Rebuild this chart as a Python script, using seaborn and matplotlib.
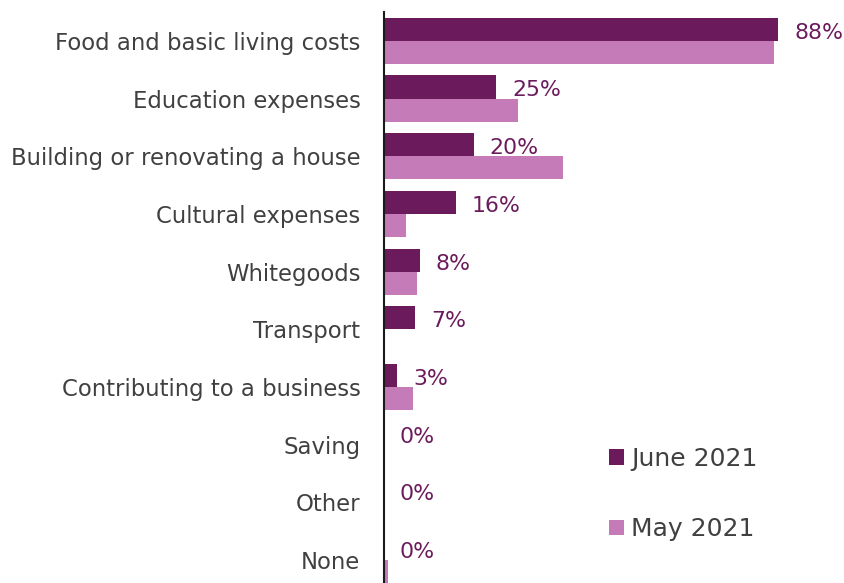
import pandas as pd
import matplotlib.pyplot as plt
import seaborn as sns

categories = ['Food and basic living costs', 'Education expenses', 'Building or renovating a house',
              'Cultural expenses', 'Whitegoods', 'Transport', 'Contributing to a business',
              'Saving', 'Other', 'None']
june_2021 = [88, 25, 20, 16, 8, 7, 3, 0, 0, 0]
may_2021 = [87, 30, 40, 5, 7.4, 0, 6.4, 0, 0, 1]
series = ['June 2021', 'May 2021']
colors = ['#6B1B5C', '#C57BB7']

df = pd.DataFrame({
    'category': categories * 2,
    'value': june_2021 + may_2021,
    'period': [series[0]] * len(categories) + [series[1]] * len(categories),
})

sns.set_style('white')
plt.rcParams['font.family'] = ['DejaVu Sans']

fig = plt.figure(figsize=(8.45, 5.83), dpi=100)
ax = fig.add_axes([384 / 845, -6 / 583, 448 / 845, 577 / 583])

sns.barplot(data=df, y='category', x='value', hue='period', hue_order=series,
            palette=colors, order=categories, orient='h', width=0.8,
            saturation=1, linewidth=0, ax=ax)

ax.set_xlim(0, 100)
ax.set_ylim(9.5, -0.5)
ax.set_xlabel('')
ax.set_ylabel('')
ax.set_xticks([])
ax.tick_params(axis='y', length=0, labelsize=16.4, labelcolor='#404040', pad=17)

for s in ['top', 'right', 'bottom']:
    ax.spines[s].set_visible(False)
ax.spines['left'].set_color('#1a1a1a')
ax.spines['left'].set_linewidth(1.5)

# labels on the June bars only
for bar, v in zip(ax.containers[0], june_2021):
    ax.annotate(f'{v:.0f}%', (bar.get_width(), bar.get_y() + bar.get_height() / 2),
                xytext=(11.5, -2.5), textcoords='offset points', va='center', ha='left',
                fontsize=15.8, color='#6B1B5C')

ax.legend(loc='upper left', bbox_to_anchor=(609 / 845, 1 - 447 / 583),
          bbox_transform=fig.transFigure, frameon=False, fontsize=18,
          labelcolor='#404040', handlelength=0.6, handleheight=0.6,
          handletextpad=0.3, labelspacing=1.85, borderpad=0, borderaxespad=0)

fig.savefig('out.png', dpi=100)
